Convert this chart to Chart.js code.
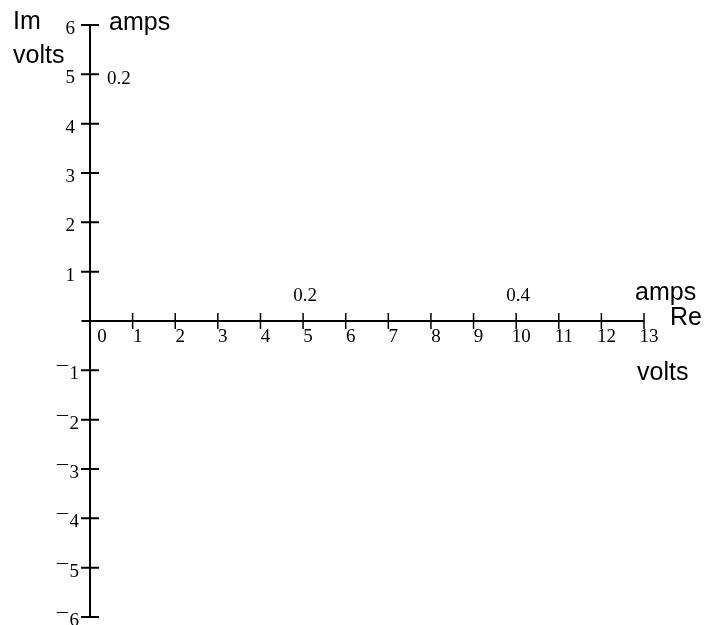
<!DOCTYPE html>
<html>
<head>
<meta charset="utf-8">
<script src="https://cdn.jsdelivr.net/npm/chart.js@4/dist/chart.umd.min.js"></script>
<style>
  body { margin: 0; background: #fff; }
  canvas { display: block; }
</style>
</head>
<body>
<canvas id="phasorChart" width="719" height="625"></canvas>
<script>
// volts scale on both axes
const xTicks = [0, 1, 2, 3, 4, 5, 6, 7, 8, 9, 10, 11, 12, 13];
const yTicks = [-6, -5, -4, -3, -2, -1, 1, 2, 3, 4, 5, 6];
// amps scale, written at the volts position it matches
const ampTicksX = [5, 10];
const ampLabelsX = ['0.2', '0.4'];
const ampTicksY = [5];
const ampLabelsY = ['0.2'];

const serif = '19px "Liberation Serif", "Times New Roman", serif';
const sans = '25px "Liberation Sans", Arial, sans-serif';

const axesPlugin = {
  id: 'axesThroughOrigin',
  afterDraw(chart) {
    const ctx = chart.ctx;
    const xs = chart.scales.x;
    const ys = chart.scales.y;
    const x0 = xs.getPixelForValue(0);
    const y0 = ys.getPixelForValue(0);

    ctx.save();
    ctx.strokeStyle = '#000';
    ctx.fillStyle = '#000';

    // axis lines
    ctx.lineWidth = 2;
    ctx.beginPath();
    ctx.moveTo(xs.getPixelForValue(xs.min), y0);
    ctx.lineTo(xs.getPixelForValue(xs.max), y0);
    ctx.moveTo(x0, ys.getPixelForValue(ys.max));
    ctx.lineTo(x0, ys.getPixelForValue(ys.min));
    ctx.stroke();

    // x ticks (cross the axis)
    ctx.lineWidth = 1.5;
    ctx.beginPath();
    xTicks.forEach(v => {
      if (v === 0) return;
      const px = xs.getPixelForValue(v);
      ctx.moveTo(px, y0 - 8);
      ctx.lineTo(px, y0 + 8);
    });
    ctx.stroke();

    // y ticks
    ctx.lineWidth = 2;
    ctx.beginPath();
    yTicks.forEach(v => {
      const py = ys.getPixelForValue(v);
      ctx.moveTo(x0 - 9, py);
      ctx.lineTo(x0 + 9, py);
    });
    ctx.stroke();

    // x tick labels
    ctx.font = serif;
    ctx.textAlign = 'center';
    ctx.textBaseline = 'alphabetic';
    xTicks.forEach(v => {
      const px = xs.getPixelForValue(v) + (v === 0 ? 12 : 5);
      ctx.fillText(String(v), px, y0 + 21);
    });

    // y tick labels, negatives get a raised, wide minus
    ctx.textAlign = 'right';
    yTicks.forEach(v => {
      const py = ys.getPixelForValue(v) + 9;
      if (v > 0) {
        ctx.fillText(String(v), x0 - 15, py);
      } else {
        const d = String(-v);
        ctx.fillText(d, x0 - 11, py);
        const w = ctx.measureText(d).width;
        const mx = x0 - 11 - w;
        ctx.save();
        ctx.translate(mx, py - 7);
        ctx.scale(1.3, 1);
        ctx.fillText('\u2212', 0, 0);
        ctx.restore();
      }
    });

    // amps labels
    ctx.textAlign = 'center';
    ampTicksX.forEach((v, i) => {
      ctx.fillText(ampLabelsX[i], xs.getPixelForValue(v) + 2, y0 - 20);
    });
    ctx.textAlign = 'left';
    ampTicksY.forEach((v, i) => {
      ctx.fillText(ampLabelsY[i], x0 + 17, ys.getPixelForValue(v) + 10);
    });

    // axis names
    ctx.font = sans;
    const xEnd = xs.getPixelForValue(xs.max);
    const yTop = ys.getPixelForValue(ys.max);
    ctx.fillText('Im', 13, yTop + 4);
    ctx.fillText('volts', 13, yTop + 38);
    ctx.fillText('amps', x0 + 19, yTop + 5);
    ctx.fillText('amps', xEnd - 9, y0 - 21);
    ctx.fillText('Re', xEnd + 26, y0 + 4);
    ctx.fillText('volts', xEnd - 7, y0 + 59);
    ctx.restore();
  }
};

const ctx = document.getElementById('phasorChart').getContext('2d');
const phasorChart = new Chart(ctx, {
  type: 'scatter',
  data: { datasets: [{ data: [] }] },
  options: {
    responsive: false,
    animation: false,
    layout: { padding: { left: 81.5, right: 75, top: 25, bottom: 8 } },
    plugins: { legend: { display: false }, tooltip: { enabled: false } },
    scales: {
      x: { type: 'linear', min: -0.2, max: 13, display: false },
      y: { type: 'linear', min: -6, max: 6, display: false }
    }
  },
  plugins: [axesPlugin]
});
</script>
</body>
</html>
